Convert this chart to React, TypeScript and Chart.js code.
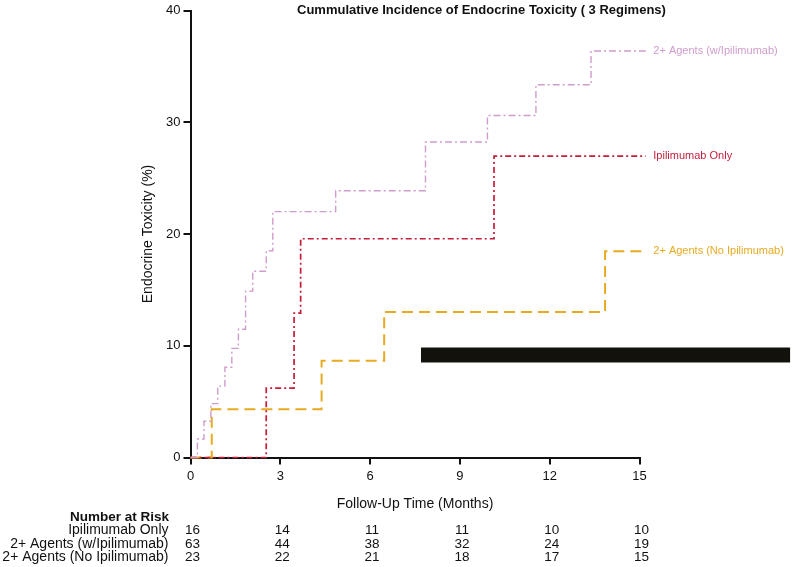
import React, { useEffect, useRef } from "react";
import { Chart, registerables } from "chart.js";

Chart.register(...registerables);

// ---- Data ----
const withIpiTimes = [0, 0.23, 0.45, 0.68, 0.91, 1.15, 1.38, 1.6, 1.84, 2.08, 2.53, 2.75, 4.85, 7.85, 9.92, 11.54, 13.38, 15.21];
const withIpiValues = [0, 1.65, 3.25, 4.82, 6.39, 8.08, 9.77, 11.49, 14.9, 16.68, 18.52, 22.02, 23.89, 28.25, 30.62, 33.38, 36.4, 36.4];

const ipiOnlyTimes = [0, 2.53, 3.46, 3.68, 10.14, 15.21];
const ipiOnlyValues = [0, 6.21, 12.92, 19.59, 26.98, 26.98];

const noIpiTimes = [0, 0.71, 4.38, 6.47, 13.85, 15.21];
const noIpiValues = [0, 4.31, 8.67, 13.03, 18.46, 18.46];

const barTimes = [7.7, 20.03];
const barValue = 9.17;

const seriesNames = ["2+ Agents (w/Ipilimumab)", "Ipilimumab Only", "2+ Agents (No Ipilimumab)"];

const riskTimes = [0, 3, 6, 9, 12, 15];
const riskIpiOnly = [16, 14, 11, 11, 10, 10];
const riskWithIpi = [63, 44, 38, 32, 24, 19];
const riskNoIpi = [23, 22, 21, 18, 17, 15];

const xTicks = [0, 3, 6, 9, 12, 15];
const yTicks = [0, 10, 20, 30, 40];

const title = "Cummulative Incidence of Endocrine Toxicity ( 3 Regimens)";
const xTitle = "Follow-Up Time (Months)";
const yTitle = "Endocrine Toxicity (%)";

const PINK = "#cf9dcc";
const RED = "#c41e3a";
const ORANGE = "#e8aa20";
const FONT = "'Liberation Sans', Arial, sans-serif";

const toPts = (xs: number[], ys: number[]) => xs.map((x, i) => ({ x, y: ys[i] }));

export default function App() {
  const ref = useRef<HTMLCanvasElement | null>(null);

  useEffect(() => {
    document.body.style.margin = "0";
    const canvas = ref.current;
    if (!canvas) return;

    const annot = {
      id: "annot",
      beforeDraw(chart: any) {
        const c = chart.ctx;
        c.save();
        c.fillStyle = "#ffffff";
        c.fillRect(0, 0, chart.width, chart.height);
        c.restore();
      },
      afterDraw(chart: any) {
        const c = chart.ctx;
        const xs = chart.scales.x;
        const ys = chart.scales.y;
        c.save();
        c.textBaseline = "middle";

        // title
        c.fillStyle = "#111";
        c.font = `bold 13px ${FONT}`;
        c.textAlign = "left";
        c.fillText(title, 297, 10.5);

        // axis titles
        c.font = `14px ${FONT}`;
        c.textAlign = "center";
        c.fillText(xTitle, (chart.chartArea.left + chart.chartArea.right) / 2, 504);
        c.save();
        c.translate(148, 234);
        c.rotate(-Math.PI / 2);
        c.fillText(yTitle, 0, 0);
        c.restore();

        // end labels
        c.font = `11px ${FONT}`;
        c.textAlign = "left";
        const ends = [
          { t: withIpiTimes, v: withIpiValues, col: PINK, name: seriesNames[0] },
          { t: ipiOnlyTimes, v: ipiOnlyValues, col: RED, name: seriesNames[1] },
          { t: noIpiTimes, v: noIpiValues, col: ORANGE, name: seriesNames[2] },
        ];
        for (const e of ends) {
          const lx = xs.getPixelForValue(e.t[e.t.length - 1]) + 7.5;
          const ly = ys.getPixelForValue(e.v[e.v.length - 1]);
          c.fillStyle = e.col;
          c.fillText(e.name, lx, ly);
        }

        // number at risk table
        c.fillStyle = "#111";
        c.textAlign = "right";
        c.font = `bold 13.5px ${FONT}`;
        c.fillText("Number at Risk", 169, 517);
        const rows = [
          { name: seriesNames[1], vals: riskIpiOnly, y: 530.5 },
          { name: seriesNames[0], vals: riskWithIpi, y: 544 },
          { name: seriesNames[2], vals: riskNoIpi, y: 557 },
        ];
        for (const r of rows) {
          c.font = `14px ${FONT}`;
          c.textAlign = "right";
          c.fillText(r.name, 168.5, r.y);
          c.font = `13.5px ${FONT}`;
          c.textAlign = "center";
          r.vals.forEach((v, i) => {
            c.fillText(String(v), xs.getPixelForValue(riskTimes[i]) + 2, r.y);
          });
        }
        c.restore();
      },
    };

    const chart = new Chart(canvas, {
      type: "line",
      data: {
        datasets: [
          {
            data: toPts(barTimes, [barValue, barValue]),
            borderColor: "#8a8a88",
            borderWidth: 16,
            borderCapStyle: "butt",
            pointRadius: 0,
            clip: false,
            order: 5,
          } as any,
          {
            data: toPts(barTimes, [barValue, barValue]),
            borderColor: "#13110c",
            borderWidth: 14,
            borderCapStyle: "butt",
            pointRadius: 0,
            clip: false,
            order: 4,
          } as any,
          {
            data: toPts(noIpiTimes, noIpiValues),
            borderColor: ORANGE,
            borderWidth: 2,
            borderDash: [11, 6],
            stepped: true,
            pointRadius: 0,
            clip: false,
            order: 3,
          } as any,
          {
            data: toPts(ipiOnlyTimes, ipiOnlyValues),
            borderColor: RED,
            borderWidth: 1.7,
            borderDash: [6, 3, 2, 3],
            stepped: true,
            pointRadius: 0,
            clip: false,
            order: 2,
          } as any,
          {
            data: toPts(withIpiTimes, withIpiValues),
            borderColor: PINK,
            borderWidth: 1.4,
            borderDash: [7, 3, 2, 3],
            stepped: true,
            pointRadius: 0,
            clip: false,
            order: 1,
          } as any,
        ],
      },
      options: {
        responsive: false,
        animation: false,
        events: [],
        layout: { padding: { left: 150.5, right: 154.5, top: 7.5, bottom: 79.5 } },
        plugins: { legend: { display: false }, tooltip: { enabled: false }, title: { display: false } },
        scales: {
          x: {
            type: "linear",
            min: 0,
            max: 15,
            afterFit: (s: any) => { s.height = 30; },
            afterBuildTicks: (s: any) => { s.ticks = xTicks.map((v) => ({ value: v })); },
            ticks: { color: "#111", font: { family: FONT, size: 13 }, padding: 4, maxRotation: 0 },
            grid: { display: true, drawOnChartArea: false, drawTicks: true, tickLength: 7, color: "#111", lineWidth: 2 },
            border: { display: true, color: "#111", width: 2 },
          },
          y: {
            type: "linear",
            min: 0,
            max: 40,
            afterFit: (s: any) => { s.width = 40; },
            afterBuildTicks: (s: any) => { s.ticks = yTicks.map((v) => ({ value: v })); },
            ticks: { color: "#111", font: { family: FONT, size: 13 }, padding: 3 },
            grid: { display: true, drawOnChartArea: false, drawTicks: true, tickLength: 7, color: "#111", lineWidth: 2 },
            border: { display: true, color: "#111", width: 2 },
          },
        },
      } as any,
      plugins: [annot],
    });
    return () => chart.destroy();
  }, []);

  return (
    <div style={{ position: "fixed", left: 0, top: 0, width: 794, height: 567 }}>
      <canvas ref={ref} width={794} height={567} style={{ width: 794, height: 567, display: "block" }} />
    </div>
  );
}
